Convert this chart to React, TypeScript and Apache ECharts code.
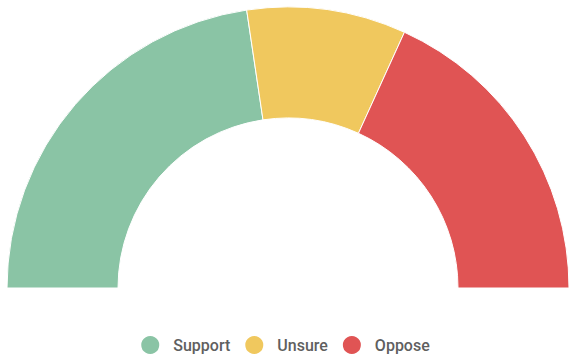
import React, { useEffect, useRef } from "react";
import * as echarts from "echarts";

const categories = ["Support", "Unsure", "Oppose"];
const values = [45.3, 18.3, 36.4];
const colors = ["#8ac4a5", "#f0c85e", "#e05454"];

export default function App() {
  const ref = useRef<HTMLDivElement>(null);
  useEffect(() => {
    document.body.style.margin = "0";
    const chart = echarts.init(ref.current!, null, { renderer: "svg" });
    chart.setOption({
      animation: false,
      legend: {
        top: 334,
        left: "center",
        icon: "circle",
        itemWidth: 20,
        itemHeight: 20,
        itemGap: 13,
        padding: 0,
        textStyle: {
          fontFamily: "Roboto",
          fontSize: 16,
          fontWeight: 500,
          color: "#5f5f5f",
          padding: [0, 0, 0, 8],
        },
        data: categories,
      },
      series: [
        {
          type: "pie",
          center: [288, 288],
          radius: [170, 281],
          startAngle: 180,
          endAngle: 0,
          clockwise: true,
          label: { show: false },
          labelLine: { show: false },
          itemStyle: { borderColor: "#fff", borderWidth: 1 },
          data: categories.map((c, i) => ({
            name: c,
            value: values[i],
            itemStyle: { color: colors[i] },
          })),
        },
      ],
    });
    return () => chart.dispose();
  }, []);
  return <div ref={ref} style={{ width: 569, height: 355 }} />;
}
